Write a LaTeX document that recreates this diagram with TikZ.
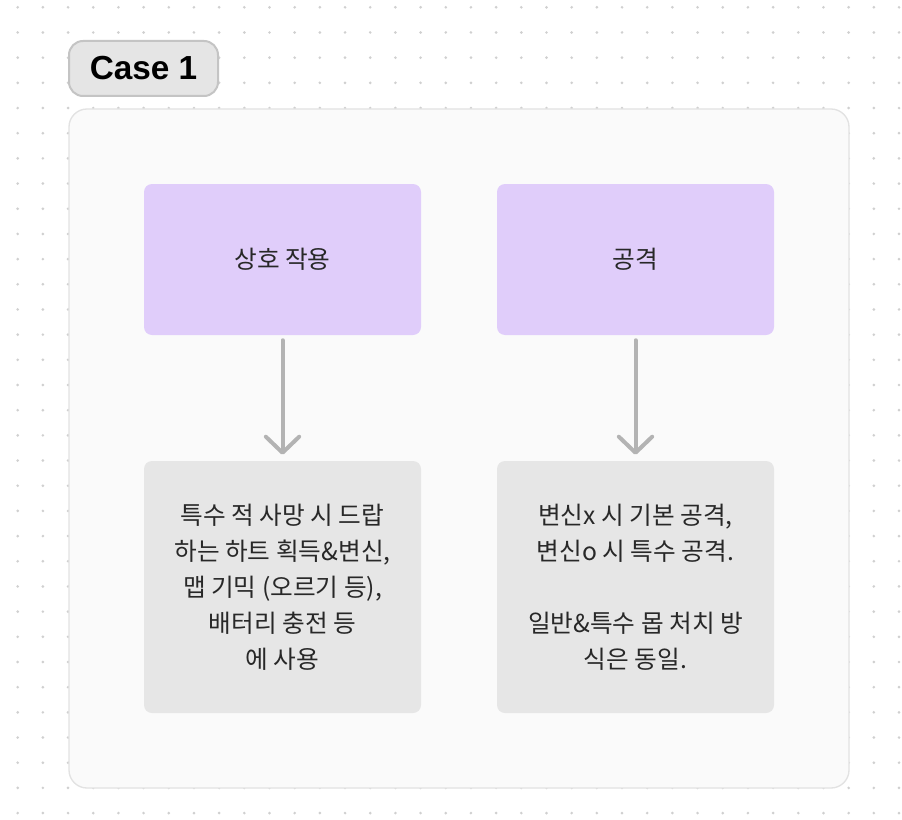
\documentclass[tikz,border=0pt]{standalone}
\usepackage{fontspec}
\setmainfont{Noto Sans CJK KR}
\newfontfamily\casefont{Liberation Sans}
\usetikzlibrary{arrows.meta}

\begin{document}
\begin{tikzpicture}[x=0.75pt,y=-0.75pt,
    purplebox/.style={fill=boxpurple, rounded corners=6pt, minimum width=207.75pt,
      minimum height=113.25pt, text=textdark, font=\fontsize{18.5}{27}\selectfont},
    graybox/.style={fill=boxgray, rounded corners=6pt, minimum width=207.75pt,
      minimum height=189pt, align=center, text=textdark, font=\fontsize{18.5}{27}\selectfont},
    flow/.style={draw=arrowgray, line width=3pt, line cap=round,
      -{Straight Barb[length=12pt,width=25pt,round]}, shorten <=3.75pt, shorten >=4.5pt}]
  % Couleurs
  \definecolor{dotgray}{RGB}{208, 208, 208}
  \definecolor{panelfill}{RGB}{250, 250, 250}
  \definecolor{panelline}{RGB}{226, 226, 226}
  \definecolor{tagfill}{RGB}{229, 229, 229}
  \definecolor{tagline}{RGB}{196, 196, 196}
  \definecolor{boxpurple}{RGB}{224, 205, 250}
  \definecolor{boxgray}{RGB}{230, 230, 230}
  \definecolor{arrowgray}{RGB}{179, 179, 179}
  \definecolor{textdark}{RGB}{40, 40, 40}

  % Fond et grille de points
  \fill[white] (0,0) rectangle (902,820);
  \useasboundingbox (0,0) rectangle (902,820);
  \foreach \i in {0,...,35}
    \foreach \j in {0,...,32}
      \fill[dotgray] (17.7+25.18*\i, 7.3+25.18*\j) circle (1.1pt);

  % Panneau
  \filldraw[fill=panelfill, draw=panelline, line width=1pt, rounded corners=13.5pt]
    (69,109) rectangle (849,788);

  % Etiquette
  \node[fill=tagfill, draw=tagline, line width=1.5pt, rounded corners=10.5pt,
    minimum width=111.75pt, minimum height=41.25pt, inner sep=0pt,
    font=\casefont\bfseries\fontsize{25}{30}\selectfont, text=black]
    (case) at (143.5,68.5) {Case 1};

  % Boites du haut
  \node[purplebox] (interact) at (282.5,259.5) {상호 작용};
  \node[purplebox] (attack) at (635.5,259.5) {공격};

  % Boites du bas
  \node[graybox] (uses) at (282.5,587) {특수 적 사망 시 드랍\\하는 하트 획득\&변신,\\맵 기믹 (오르기 등),\\배터리 충전 등\\에 사용};
  \node[graybox] (modes) at (635.5,587) {변신x 시 기본 공격,\\변신o 시 특수 공격.\\[27pt]일반\&특수 몹 처치 방\\식은 동일.};

  % Fleches
  \draw[flow] (interact) -- (uses);
  \draw[flow] (attack) -- (modes);
\end{tikzpicture}
\end{document}
